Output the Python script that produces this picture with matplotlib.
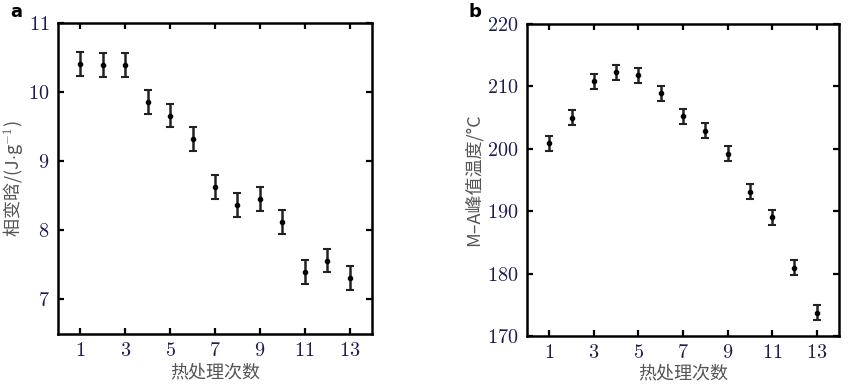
import matplotlib
matplotlib.use("Agg")
import matplotlib.pyplot as plt
import numpy as np

plt.rcParams['font.family'] = ['cmr10', 'Noto Sans CJK SC', 'DejaVu Sans']
plt.rcParams['axes.formatter.use_mathtext'] = True
plt.rcParams['mathtext.fontset'] = 'cm'

# heat treatment cycle number
cycles = np.arange(1, 14)

# panel a: phase change latent heat (J/g)
latent_heat = [10.41, 10.39, 10.39, 9.86, 9.66, 9.32, 8.63, 8.37, 8.45, 8.12, 7.40, 7.56, 7.31]
latent_err = [0.17] * 13

# panel b: M-A peak temperature (C)
peak_temp = [200.9, 205.0, 210.8, 212.3, 211.8, 208.9, 205.2, 202.9, 199.2, 193.1, 189.0, 180.9, 173.7]
peak_err = [1.2] * 13

xticks = [1, 3, 5, 7, 9, 11, 13]
tick_color = '#1c1c50'
label_color = '#555555'

fig = plt.figure(figsize=(8.48, 3.84), dpi=100)
ax1 = fig.add_axes([58 / 848, 1 - 334 / 384, 314 / 848, 311 / 384])
ax2 = fig.add_axes([527 / 848, 1 - 336 / 384, 312 / 848, 312 / 384])


def style(ax, xlab_y):
    for s in ax.spines.values():
        s.set_linewidth(1.8)
    ax.tick_params(direction='in', length=4, width=1.6, top=True, right=True,
                   labelsize=14.5, labelcolor=tick_color, pad=6)
    ax.set_xlim(0, 14)
    ax.set_xticks(xticks)
    ax.set_xlabel('热处理次数', fontsize=13, color=label_color,
                  family=['Noto Sans CJK SC'])
    ax.xaxis.set_label_coords(0.5, xlab_y)


ax1.errorbar(cycles, latent_heat, yerr=latent_err, fmt='o', ms=3, color='black',
             ecolor='#222222', elinewidth=1.8, capsize=3, capthick=1.5)
style(ax1, -0.095)
ax1.set_ylim(6.5, 11)
ax1.set_yticks([7, 8, 9, 10, 11])
ax1.set_ylabel('相变晗/(J$\\cdot$g$^{-1}$)', fontsize=13, color=label_color,
               family=['Noto Sans CJK SC', 'DejaVu Sans'])
ax1.yaxis.set_label_coords(-0.105, 0.5)

ax2.errorbar(cycles, peak_temp, yerr=peak_err, fmt='o', ms=3, color='black',
             ecolor='#222222', elinewidth=1.8, capsize=3, capthick=1.5)
style(ax2, -0.09)
ax2.set_ylim(170, 220)
ax2.set_yticks([170, 180, 190, 200, 210, 220])
ax2.set_ylabel('M–A峰值温度/°C', fontsize=13, color=label_color,
               family=['Noto Sans CJK SC', 'DejaVu Sans'])
ax2.yaxis.set_label_coords(-0.141, 0.5)

fig.text(10 / 848, 1 - 12 / 384, 'a', fontsize=13, fontweight='bold',
         family='DejaVu Sans', va='center', ha='left')
fig.text(468 / 848, 1 - 12 / 384, 'b', fontsize=13, fontweight='bold',
         family='DejaVu Sans', va='center', ha='left')

fig.savefig('out.png', dpi=100)
